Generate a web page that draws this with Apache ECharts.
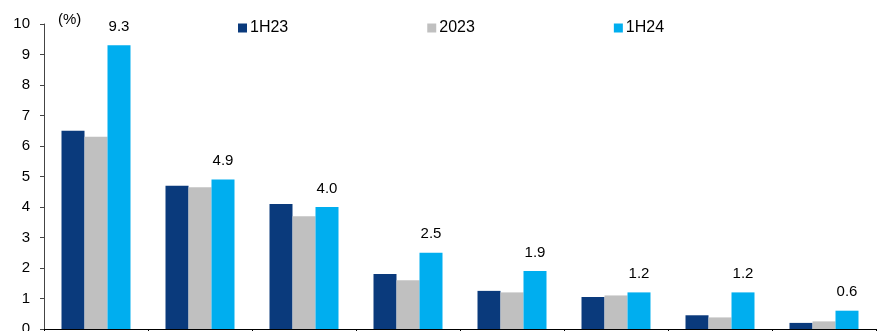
<!DOCTYPE html>
<html>
<head>
<meta charset="utf-8">
<script src="https://cdn.jsdelivr.net/npm/echarts@6/dist/echarts.min.js"></script>
<style>
html,body{margin:0;padding:0;background:#fff;}
#chart{width:889px;height:331px;}
</style>
</head>
<body>
<div id="chart"></div>
<script>
const categories = ['G1', 'G2', 'G3', 'G4', 'G5', 'G6', 'G7', 'G8'];
const seriesNames = ['1H23', '2023', '1H24'];
const values1H23 = [6.5, 4.7, 4.1, 1.8, 1.25, 1.05, 0.45, 0.2];
const values2023 = [6.3, 4.65, 3.7, 1.6, 1.2, 1.1, 0.38, 0.25];
const values1H24 = [9.3, 4.9, 4.0, 2.5, 1.9, 1.2, 1.2, 0.6];
const yTicks = [0, 1, 2, 3, 4, 5, 6, 7, 8, 9, 10];
const colors = ['#0A3A7C', '#C0C0C0', '#00AEEF'];

const font = '"Liberation Sans", Arial, sans-serif';
const chart = echarts.init(document.getElementById('chart'));
const allValues = [values1H23, values2023, values1H24];

chart.setOption({
  animation: false,
  textStyle: { fontFamily: font },
  grid: { left: 44, right: 13, top: 24, bottom: 2, containLabel: false, outerBoundsMode: 'none' },
  legend: {
    data: seriesNames,
    left: 233,
    top: 15,
    itemWidth: 9,
    itemHeight: 9,
    itemGap: 139,
    icon: 'rect',
    textStyle: { fontFamily: font, fontSize: 16, color: '#000', padding: [0, 0, 0, -2] }
  },
  graphic: [{
    type: 'text',
    left: 58,
    top: 12,
    style: { text: '(%)', font: '15px ' + font, fill: '#000' }
  }],
  xAxis: {
    type: 'category',
    data: categories,
    axisLine: { lineStyle: { color: '#000', width: 1 } },
    axisTick: { show: true, length: 3, lineStyle: { color: '#000' } },
    axisLabel: { show: false }
  },
  yAxis: {
    type: 'value',
    min: yTicks[0],
    max: yTicks[yTicks.length - 1],
    interval: 1,
    splitLine: { show: false },
    axisLine: { show: true, lineStyle: { color: '#444', width: 1 } },
    axisTick: { show: true, length: 4, lineStyle: { color: '#444' } },
    axisLabel: { fontFamily: font, fontSize: 15, color: '#000', margin: 14 }
  },
  series: seriesNames.map((name, i) => ({
    name: name,
    type: 'bar',
    data: allValues[i],
    barWidth: 23,
    barGap: '0%',
    itemStyle: { color: colors[i] },
    label: i === 2 ? {
      show: true,
      position: 'top',
      distance: 11,
      fontFamily: font,
      fontSize: 15,
      color: '#000',
      formatter: p => p.value.toFixed(1)
    } : { show: false }
  }))
});
</script>
</body>
</html>
